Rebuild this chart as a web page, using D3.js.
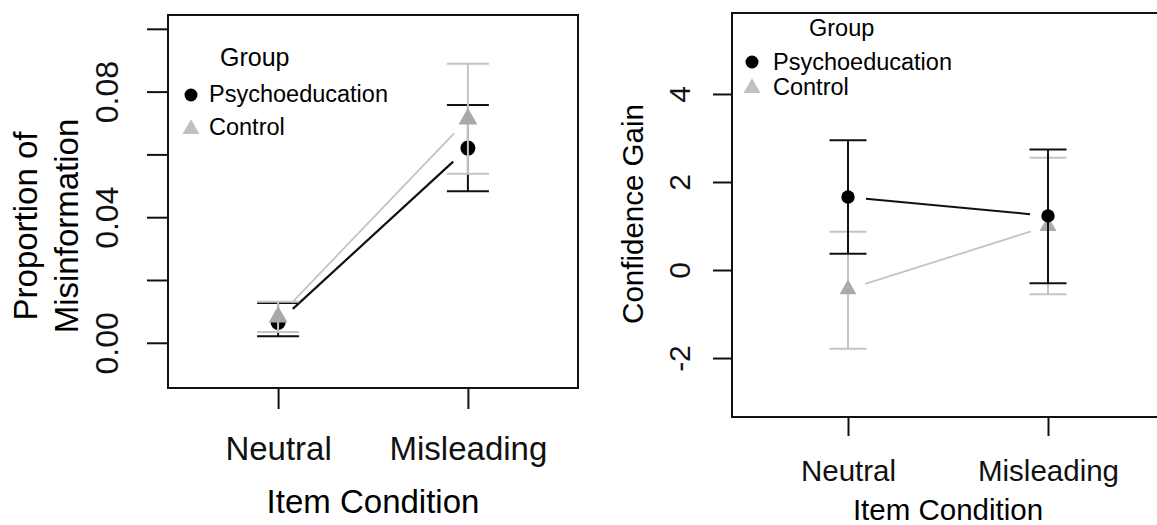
<!DOCTYPE html>
<html>
<head>
<meta charset="utf-8">
<script src="https://cdn.jsdelivr.net/npm/d3@7"></script>
<style>
  body { margin: 0; background: #fff; }
  svg { display: block; font-family: "Liberation Sans", Arial, sans-serif; }
</style>
</head>
<body>
<svg width="1157" height="525"></svg>
<script>
// Data
const conditions = ['Neutral', 'Misleading'];
const groups = ['Psychoeducation', 'Control'];

// Proportion of misinformation (mean, lower, upper), per group, per condition
const misinfoPsychoMean = [0.0065, 0.0620];
const misinfoPsychoLow  = [0.0021, 0.0483];
const misinfoPsychoHigh = [0.0127, 0.0757];
const misinfoControlMean = [0.0082, 0.0713];
const misinfoControlLow  = [0.0034, 0.0538];
const misinfoControlHigh = [0.0131, 0.0889];

// Confidence gain (mean, lower, upper)
const confPsychoMean = [1.66, 1.23];
const confPsychoLow  = [0.37, -0.30];
const confPsychoHigh = [2.95, 2.74];
const confControlMean = [-0.44, 1.00];
const confControlLow  = [-1.79, -0.55];
const confControlHigh = [0.87, 2.55];

const misinfoTicks = [0, 0.02, 0.04, 0.06, 0.08, 0.10];
const misinfoLabels = ['0.00', '', '0.04', '', '0.08', ''];
const confTicks = [-2, 0, 2, 4];
const confLabels = ['-2', '0', '2', '4'];

let svg = d3.select('svg');

const black = '#111';
const grey = '#c4c4c4';
const greyMark = '#a9a9a9';

function drawPanel(p) {
  let x = d3.scaleLinear().domain([0.42, 2.58]).range([p.left, p.right]);
  let y = d3.scaleLinear().domain(p.ydomain).range([p.bottom, p.top]);
  let g = svg.append('g');

  // y axis ticks (box edge serves as axis line)
  let ya = g.append('g')
      .attr('transform', `translate(${p.left},0)`)
      .call(d3.axisLeft(y).tickValues(p.yticks).tickSize(p.tick)
        .tickFormat((d, i) => p.ylabels[i]));
  ya.select('.domain').remove();
  ya.selectAll('line').attr('stroke', black).attr('stroke-width', 2);
  ya.selectAll('text')
      .attr('x', null).attr('dy', '0.35em')
      .attr('transform', `translate(${p.ylabX - p.left},0) rotate(-90)`)
      .attr('text-anchor', 'middle')
      .attr('fill', black)
      .style('font-size', p.tickFont + 'px');

  // x axis ticks
  let xa = g.append('g')
      .attr('transform', `translate(0,${p.bottom})`)
      .call(d3.axisBottom(x).tickValues([1, 2]).tickSize(p.tick)
        .tickFormat(d => conditions[d - 1]));
  xa.select('.domain').remove();
  xa.selectAll('line').attr('stroke', black).attr('stroke-width', 2);
  xa.selectAll('text')
      .attr('y', p.xlabBase - p.bottom).attr('dy', 0)
      .attr('fill', black)
      .style('font-size', p.font + 'px');

  // axis titles
  g.append('text')
      .attr('x', (x(1) + x(2)) / 2).attr('y', p.xtitleBase)
      .attr('text-anchor', 'middle')
      .style('font-size', p.font + 'px')
      .text('Item Condition');
  p.ytitle.forEach((t, i) => {
    g.append('text')
        .attr('transform', `translate(${p.ytitleX[i]},${p.ytitleY}) rotate(-90)`)
        .attr('text-anchor', 'middle')
        .style('font-size', p.font + 'px')
        .text(t);
  });

  // box
  g.append('rect')
      .attr('x', p.left).attr('y', p.top)
      .attr('width', p.right - p.left).attr('height', p.bottom - p.top)
      .attr('fill', 'none').attr('stroke', black).attr('stroke-width', 2);

  // series
  p.series.forEach(s => {
    let pts = s.mean.map((m, i) => ({ x: x(i + 1), y: y(m), lo: y(s.low[i]), hi: y(s.high[i]) }));

    // connecting line with gaps at the points
    let a = pts[0], b = pts[1];
    let dx = b.x - a.x, dy = b.y - a.y, len = Math.hypot(dx, dy);
    g.append('line')
        .attr('x1', a.x + dx / len * p.gap).attr('y1', a.y + dy / len * p.gap)
        .attr('x2', b.x - dx / len * p.gap).attr('y2', b.y - dy / len * p.gap)
        .attr('stroke', s.line).attr('stroke-width', s.lw);

    let eb = g.append('g').attr('stroke', s.line).attr('stroke-width', 2);
    pts.forEach(d => {
      eb.append('line').attr('x1', d.x).attr('x2', d.x).attr('y1', d.lo).attr('y2', d.hi);
      eb.append('line').attr('x1', d.x - p.cap).attr('x2', d.x + p.cap).attr('y1', d.lo).attr('y2', d.lo);
      eb.append('line').attr('x1', d.x - p.cap).attr('x2', d.x + p.cap).attr('y1', d.hi).attr('y2', d.hi);
    });

    pts.forEach(d => {
      if (s.shape === 'circle') {
        g.append('circle').attr('cx', d.x).attr('cy', d.y).attr('r', p.r).attr('fill', '#000');
      } else {
        g.append('path')
            .attr('d', d3.symbol(d3.symbolTriangle, p.tri)())
            .attr('transform', `translate(${d.x},${d.y})`)
            .attr('fill', greyMark);
      }
    });
  });

  // legend
  let L = p.legend;
  g.append('text').attr('x', L.titleX).attr('y', L.titleY)
      .style('font-size', L.titleFont + 'px').text('Group');
  groups.forEach((name, i) => {
    let cy = L.rowY[i];
    if (i === 0) {
      g.append('circle').attr('cx', L.symX).attr('cy', cy).attr('r', 6.5).attr('fill', '#000');
    } else {
      g.append('path')
          .attr('d', d3.symbol(d3.symbolTriangle, 125)())
          .attr('transform', `translate(${L.symX},${cy + 1})`)
          .attr('fill', '#c0c0c0');
    }
    g.append('text').attr('x', L.textX).attr('y', cy + L.baseOff)
        .style('font-size', L.font + 'px').text(name);
  });
}

// Left panel: proportion of misinformation
drawPanel({
  left: 168, right: 578, top: 15, bottom: 388,
  ydomain: [-0.0144, 0.1044], yticks: misinfoTicks, ylabels: misinfoLabels,
  tick: 21, tickFont: 32, ylabX: 107, xlabBase: 460, xtitleBase: 513, font: 33,
  ytitle: ['Proportion of', 'Misinformation'], ytitleX: [37, 78], ytitleY: 226,
  gap: 20, cap: 21, r: 7.5, tri: 156,
  series: [
    { shape: 'circle', mean: misinfoPsychoMean, low: misinfoPsychoLow, high: misinfoPsychoHigh, line: black, lw: 2.2 },
    { shape: 'triangle', mean: misinfoControlMean, low: misinfoControlLow, high: misinfoControlHigh, line: grey, lw: 1.8 }
  ],
  legend: { titleX: 220, titleY: 66, titleFont: 25, symX: 191, rowY: [95, 128], textX: 209, baseOff: 7, font: 23.5 }
});

// Right panel: confidence gain
drawPanel({
  left: 732, right: 1164, top: 13, bottom: 417,
  ydomain: [-3.34, 5.84], yticks: confTicks, ylabels: confLabels,
  tick: 19, tickFont: 30, ylabX: 679, xlabBase: 481, xtitleBase: 520, font: 29.5,
  ytitle: ['Confidence Gain'], ytitleX: [643], ytitleY: 214,
  gap: 18, cap: 18.5, r: 6.7, tri: 125,
  series: [
    { shape: 'triangle', mean: confControlMean, low: confControlLow, high: confControlHigh, line: grey, lw: 1.8 },
    { shape: 'circle', mean: confPsychoMean, low: confPsychoLow, high: confPsychoHigh, line: black, lw: 2 }
  ],
  legend: { titleX: 809, titleY: 36, titleFont: 23.5, symX: 752, rowY: [62, 87], textX: 773, baseOff: 8, font: 23.5 }
});
</script>
</body>
</html>
